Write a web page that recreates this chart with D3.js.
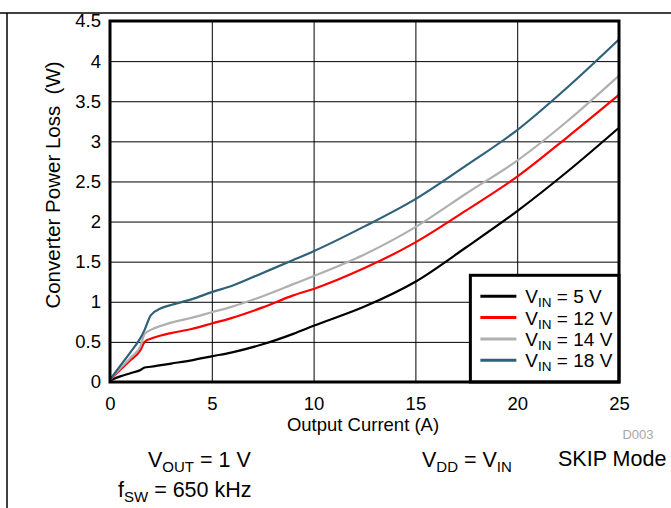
<!DOCTYPE html>
<html>
<head>
<meta charset="utf-8">
<script src="https://cdn.jsdelivr.net/npm/d3@7"></script>
<style>
  body { margin: 0; background: #fff; }
  svg { display: block; font-family: Arial, 'Liberation Sans', sans-serif; }
  .tick text { fill: #000; }
  .grid line { stroke: #000; stroke-width: 1; }
  .grid .domain { display: none; }
</style>
</head>
<body>
<div id="chart"></div>
<script>
// output current (A), shared by every series
const currents = [0, 0.5, 1, 1.5, 1.7, 2, 2.5, 3, 4, 5, 6, 7.5, 9, 10, 12.5, 15, 17.5, 20, 22.5, 25]

// converter power loss (W)
const loss5V = [0.02, 0.07, 0.11, 0.15, 0.18, 0.19, 0.21, 0.23, 0.27, 0.32, 0.37, 0.47, 0.6, 0.7, 0.94, 1.25, 1.68, 2.13, 2.63, 3.17]
const loss12V = [0.03, 0.15, 0.27, 0.4, 0.5, 0.54, 0.58, 0.61, 0.66, 0.73, 0.8, 0.93, 1.08, 1.16, 1.42, 1.74, 2.14, 2.56, 3.06, 3.58]
const loss14V = [0.03, 0.17, 0.3, 0.45, 0.6, 0.65, 0.7, 0.74, 0.8, 0.87, 0.94, 1.07, 1.22, 1.32, 1.59, 1.93, 2.35, 2.76, 3.26, 3.82]
const loss18V = [0.03, 0.2, 0.37, 0.55, 0.65, 0.83, 0.92, 0.96, 1.03, 1.12, 1.2, 1.36, 1.52, 1.63, 1.94, 2.28, 2.7, 3.14, 3.68, 4.27]

const seriesNames = ['5 V', '12 V', '14 V', '18 V']
const seriesColors = ['#000000', '#ff0000', '#b0b0b0', '#2f6178']

const xTicks = [0, 5, 10, 15, 20, 25]
const yTicks = [0, 0.5, 1, 1.5, 2, 2.5, 3, 3.5, 4, 4.5]

const series = [loss5V, loss12V, loss14V, loss18V].map((vals, i) => ({
  name: seriesNames[i],
  color: seriesColors[i],
  points: currents.map((c, j) => [c, vals[j]]),
}))

const W = 671
const H = 508
const margin = { left: 110, top: 21, right: 52, bottom: 126 }
const width = W - margin.left - margin.right
const height = H - margin.top - margin.bottom

const svg = d3.select('#chart').append('svg')
  .attr('width', W)
  .attr('height', H)

// outer figure border (only top and left are in view)
svg.append('line').attr('x1', 0).attr('x2', W).attr('y1', 13).attr('y2', 13)
  .attr('stroke', '#000').attr('stroke-width', 1.5)
svg.append('line').attr('x1', 7).attr('x2', 7).attr('y1', 13).attr('y2', H)
  .attr('stroke', '#000').attr('stroke-width', 1.5)

const g = svg.append('g').attr('transform', `translate(${margin.left},${margin.top})`)

const x = d3.scaleLinear().domain([0, 25]).range([0, width])
const y = d3.scaleLinear().domain([0, 4.5]).range([height, 0])

// grid
g.append('g')
  .attr('class', 'grid')
  .attr('transform', `translate(0,${height})`)
  .call(d3.axisBottom(x).tickValues(xTicks).tickSize(-height).tickFormat(''))
g.append('g')
  .attr('class', 'grid')
  .call(d3.axisLeft(y).tickValues(yTicks).tickSize(-width).tickFormat(''))

// curves
const line = d3.line()
  .x((d) => x(d[0]))
  .y((d) => y(d[1]))
  .curve(d3.curveMonotoneX)

g.append('g')
  .selectAll('path')
  .data(series)
  .enter()
  .append('path')
  .attr('d', (d) => line(d.points))
  .attr('fill', 'none')
  .attr('stroke', (d) => d.color)
  .attr('stroke-width', 2.2)
  .attr('stroke-linejoin', 'round')

// tick labels
g.append('g')
  .attr('transform', `translate(0,${height})`)
  .call(d3.axisBottom(x).tickValues(xTicks).tickSize(0).tickPadding(15).tickFormat(d3.format('d')))
  .call((a) => a.select('.domain').remove())
  .selectAll('text')
  .style('font-size', '18.5px')

g.append('g')
  .call(d3.axisLeft(y).tickValues(yTicks).tickSize(0).tickPadding(9).tickFormat((d) => String(d)))
  .call((a) => a.select('.domain').remove())
  .selectAll('text')
  .style('font-size', '18.5px')

// legend box
const legend = g.append('g').attr('transform', `translate(${x(17.7)},${y(1.33)})`)
const legW = width - x(17.7)
const legH = height - y(1.33)
legend.append('rect')
  .attr('width', legW)
  .attr('height', legH)
  .attr('fill', '#fff')
  .attr('stroke', '#000')
  .attr('stroke-width', 3)

series.forEach((s, i) => {
  const row = legend.append('g').attr('transform', `translate(0,${21 + i * 21.3})`)
  row.append('line')
    .attr('x1', 10).attr('x2', 46)
    .attr('stroke', s.color).attr('stroke-width', 3)
  const t = row.append('text')
    .attr('x', 55).attr('y', 7)
    .style('font-size', '19px')
  t.append('tspan').text('V')
  t.append('tspan').attr('dy', 4).style('font-size', '13.5px').text('IN')
  t.append('tspan').attr('dy', -4).text(' = ' + s.name)
})

// plot frame
g.append('rect')
  .attr('width', width)
  .attr('height', height)
  .attr('fill', 'none')
  .attr('stroke', '#000')
  .attr('stroke-width', 3)

// axis titles
svg.append('text')
  .attr('x', 363).attr('y', 431)
  .attr('text-anchor', 'middle')
  .style('font-size', '18.5px')
  .text('Output Current (A)')

svg.append('text')
  .attr('transform', 'translate(60,185) rotate(-90)')
  .attr('text-anchor', 'middle')
  .style('font-size', '20.5px')
  .style('white-space', 'pre')
  .text('Converter Power Loss  (W)')

svg.append('text')
  .attr('x', 638).attr('y', 439)
  .attr('text-anchor', 'middle')
  .attr('fill', '#a8a8a8')
  .style('font-size', '13px')
  .text('D003')

// conditions, parts flagged true are subscripts
function subText(xPos, yPos, parts) {
  const t = svg.append('text').attr('x', xPos).attr('y', yPos).style('font-size', '21.5px')
  let down = false
  parts.forEach(([txt, sub]) => {
    const span = t.append('tspan').text(txt)
    if (sub && !down) span.attr('dy', 5).style('font-size', '15px')
    else if (sub) span.style('font-size', '15px')
    else if (down) span.attr('dy', -5)
    down = !!sub
  })
  return t
}

subText(148, 467, [['V'], ['OUT', true], [' = 1 V']])
subText(118, 497, [['f'], ['SW', true], [' = 650 kHz']])
subText(422, 467, [['V'], ['DD', true], [' = V'], ['IN', true]])
svg.append('text').attr('x', 558).attr('y', 466).style('font-size', '21.5px').text('SKIP Mode')
</script>
</body>
</html>
